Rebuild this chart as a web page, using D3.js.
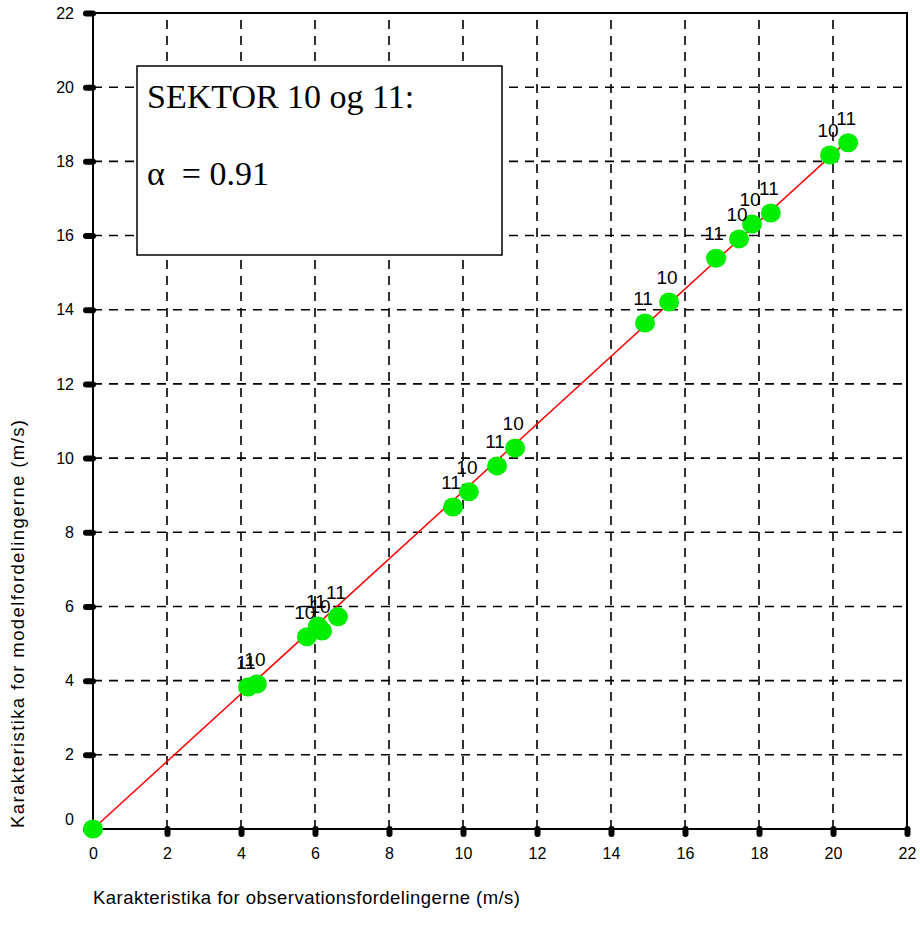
<!DOCTYPE html>
<html>
<head>
<meta charset="utf-8">
<script src="https://cdn.jsdelivr.net/npm/d3@7"></script>
<style>
body{margin:0;background:#fff;}
</style>
</head>
<body>
<div id="chart"></div>
<script>
// observations (x) vs model (y), label = sector
var obsVals   = [0, 4.19, 4.43, 5.78, 6.08, 6.19, 6.62, 9.73, 10.16, 10.92, 11.41, 14.92, 15.57, 16.84, 17.46, 17.81, 18.32, 19.92, 20.41];
var modelVals = [0, 3.83, 3.91, 5.18, 5.47, 5.34, 5.72, 8.68, 9.09, 9.79, 10.27, 13.64, 14.21, 15.39, 15.91, 16.31, 16.61, 18.17, 18.50];
var sectors   = ["", "11", "10", "10", "11", "10", "11", "11", "10", "11", "10", "11", "10", "11", "10", "10", "11", "10", "11"];
var tickVals  = [0, 2, 4, 6, 8, 10, 12, 14, 16, 18, 20, 22];
var alpha = 0.91;
var boxLines = ["SEKTOR 10 og 11:", "\u03b1  = 0.91"];

var W = 920, H = 940;
var sans = "Arial, 'Liberation Sans', sans-serif";
var serif = "'Times New Roman', 'Liberation Serif', serif";
var svg = d3.select("#chart").append("svg").attr("width", W).attr("height", H)
    .style("font-family", sans);

var x = d3.scaleLinear().domain([0, 22]).range([93, 907]);
var y = d3.scaleLinear().domain([0, 22]).range([829, 13]);

// grid
svg.append("g").selectAll("line")
    .data(tickVals.slice(1, -1)).enter().append("line")
    .attr("x1", function(d){return x(d);}).attr("x2", function(d){return x(d);})
    .attr("y1", y(0)).attr("y2", y(22))
    .attr("stroke", "#000").attr("stroke-width", 1.6).attr("stroke-dasharray", "9,7");
svg.append("g").selectAll("line")
    .data(tickVals.slice(1, -1)).enter().append("line")
    .attr("y1", function(d){return y(d);}).attr("y2", function(d){return y(d);})
    .attr("x1", x(0)).attr("x2", x(22))
    .attr("stroke", "#000").attr("stroke-width", 1.6).attr("stroke-dasharray", "9,7");

// axes
var xAxis = svg.append("g").attr("transform", "translate(0," + y(0) + ")")
    .call(d3.axisBottom(x).tickValues(tickVals).tickSize(5).tickPadding(14));
var yAxis = svg.append("g").attr("transform", "translate(" + x(0) + ",0)")
    .call(d3.axisLeft(y).tickValues(tickVals).tickSize(7).tickPadding(12));
[xAxis, yAxis].forEach(function(a){
    a.select(".domain").remove();
    a.selectAll(".tick line").attr("stroke", "#000").attr("stroke-width", 6).attr("stroke-linecap", "round");
    a.selectAll(".tick text").attr("font-size", 16).attr("fill", "#000").attr("font-family", sans);
});
yAxis.selectAll(".tick text").filter(function(d){return d === 0;}).attr("dy", "-0.3em");

// frame
svg.append("rect").attr("x", x(0)).attr("y", y(22))
    .attr("width", x(22) - x(0)).attr("height", y(0) - y(22))
    .attr("fill", "none").attr("stroke", "#000").attr("stroke-width", 2);

// text box
svg.append("rect").attr("x", 137).attr("y", 66).attr("width", 365).attr("height", 189)
    .attr("fill", "#fff").attr("stroke", "#000").attr("stroke-width", 1.5);
svg.selectAll("text.box").data(boxLines).enter().append("text")
    .attr("class", "box")
    .attr("x", 147).attr("y", function(d, i){return 108 + i * 77;})
    .style("font-family", serif)
    .attr("font-size", 34).attr("fill", "#000")
    .style("white-space", "pre")
    .text(function(d){return d;});

// fit line
var xmax = d3.max(obsVals);
svg.append("line")
    .attr("x1", x(0)).attr("y1", y(0))
    .attr("x2", x(xmax)).attr("y2", y(alpha * xmax))
    .attr("stroke", "red").attr("stroke-width", 1.5);

// points
var pts = obsVals.map(function(v, i){return {x: v, y: modelVals[i], s: sectors[i]};});
svg.append("g").selectAll("ellipse").data(pts).enter().append("ellipse")
    .attr("cx", function(d){return x(d.x);})
    .attr("cy", function(d){return y(d.y);})
    .attr("rx", 10).attr("ry", 9.5)
    .attr("fill", "#00ee00");
svg.append("g").selectAll("text").data(pts).enter().append("text")
    .attr("x", function(d){return x(d.x) - 2;})
    .attr("y", function(d){return y(d.y) - 18;})
    .attr("text-anchor", "middle").attr("font-size", 19).attr("fill", "#000")
    .text(function(d){return d.s;});

// axis titles
svg.append("text").attr("x", 93).attr("y", 904)
    .attr("font-size", 18.5).attr("fill", "#000")
    .attr("textLength", 427).attr("lengthAdjust", "spacing")
    .text("Karakteristika for observationsfordelingerne (m/s)");
svg.append("text").attr("transform", "translate(24,624) rotate(-90)")
    .attr("text-anchor", "middle")
    .attr("font-size", 18.5).attr("fill", "#000")
    .attr("textLength", 408).attr("lengthAdjust", "spacing")
    .text("Karakteristika for modelfordelingerne (m/s)");
</script>
</body>
</html>
